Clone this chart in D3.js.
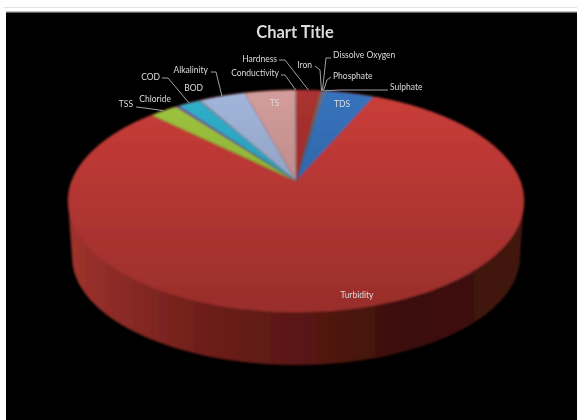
<!DOCTYPE html>
<meta charset="utf-8">
<style>
html, body { margin: 0; background: #fff; }
svg { display: block; }
text { font-family: Lato, sans-serif; fill: #dcdcdc; }
.leader { fill: none; stroke: #a0a0a0; stroke-width: 1px; }
</style>
<body>
<script src="https://d3js.org/d3.v7.min.js"></script>
<script>
// in percent, clockwise from 12 o'clock
var categories = ["Hardness", "Iron", "Dissolve Oxygen", "Phosphate", "Sulphate", "TDS", "Turbidity",
                  "TSS", "Chloride", "COD", "BOD", "Alkalinity", "TS", "Conductivity"];
var values = [2.1, 0.08, 0.08, 0.08, 0.08, 4.2, 80.6, 2.4, 0.3, 1.9, 0.05, 3.9, 4.3, 0.05];

var sliceColors = ["#ab3130", "#8a9a3a", "#7a4fa8", "#2eaecb", "#d8823a", "#3673bd", "#cb3d39",
                   "#9fc63e", "#7b4fa9", "#2fb0cd", "#d8823a", "#a2b6dc", "#d39d9b", "#a8a8a8"];

// label placement: [x, y, anchor, leader elbow x, elbow y, start x, start y] (leader optional)
var labelSpots = {
  "Hardness": [277, 59, "end", 285, 60, 279, 60],
  "Iron": [312, 65, "end", 320, 70, 315, 66],
  "Dissolve Oxygen": [333, 55, "start", 326, 58, 331, 58],
  "Phosphate": [333, 76, "start", 327, 80, 331, 77],
  "Sulphate": [390, 87, "start", 340, 90, 388, 90],
  "TDS": [342, 104, "middle"],
  "Turbidity": [357, 295, "middle"],
  "TSS": [133, 104, "end", 145, 108, 136, 107],
  "Chloride": [171, 99, "end"],
  "COD": [160, 77, "end", 168, 78, 162, 78],
  "BOD": [203, 88, "end"],
  "Alkalinity": [208, 70, "end", 216, 72, 211, 72],
  "TS": [274.5, 103, "middle"],
  "Conductivity": [279, 73, "end", 285, 75, 281, 75]
};

var width = 577, height = 420;

var svg = d3.select("body").append("svg")
    .attr("width", width)
    .attr("height", height);

var defs = svg.append("defs");

// the reference is a soft, blurry screenshot
defs.append("filter").attr("id", "soft")
    .attr("x", "-5%").attr("y", "-5%").attr("width", "110%").attr("height", "110%")
  .append("feGaussianBlur").attr("stdDeviation", 0.8);
defs.append("filter").attr("id", "softText")
    .attr("x", "-20%").attr("y", "-40%").attr("width", "140%").attr("height", "180%")
  .append("feGaussianBlur").attr("stdDeviation", 0.5);

var topShade = defs.append("linearGradient").attr("id", "topShade")
    .attr("gradientUnits", "userSpaceOnUse")
    .attr("x1", 0).attr("x2", 0).attr("y1", 90).attr("y2", 312);
topShade.append("stop").attr("offset", 0).attr("stop-color", "#000").attr("stop-opacity", 0);
topShade.append("stop").attr("offset", 1).attr("stop-color", "#000").attr("stop-opacity", 0.25);

var sideShade = defs.append("linearGradient").attr("id", "sideShade")
    .attr("gradientUnits", "userSpaceOnUse")
    .attr("x1", 68).attr("x2", 524).attr("y1", 0).attr("y2", 0);
[[0, "#a0322d"], [0.12, "#8a2a26"], [0.3, "#6e1e1a"], [0.5, "#5a1813"], [0.75, "#3a0f0b"], [1, "#42140f"]]
  .forEach(function(s) {
    sideShade.append("stop").attr("offset", s[0]).attr("stop-color", s[1]);
  });

// page frame: black plot on white, faint rule above it
svg.append("rect")
    .attr("x", 4).attr("y", 7)
    .attr("width", width - 4).attr("height", 1)
    .attr("fill", "#e2e2e2");
svg.append("rect")
    .attr("x", 6).attr("y", 11.5)
    .attr("width", width - 6).attr("height", 1)
    .attr("fill", "#888");
svg.append("rect")
    .attr("x", 6).attr("y", 12.5)
    .attr("width", width - 6).attr("height", height - 12.5)
    .attr("fill", "#000");

// perspective map of the unit disc, so the apex sits above the ellipse centre
var apex = {x: 296, y: 181};
var persp = -0.18, scaleX = 224.3, scaleY = 107.4;
function project(r, angle) {
  var ux = r * Math.sin(angle), uy = -r * Math.cos(angle),
      w = 1 + persp * uy;
  return [apex.x + scaleX * ux / w, apex.y + scaleY * uy / w];
}

var pie = d3.pie().sort(null)(values);
var line = d3.line();

function slicePoints(d) {
  var n = Math.max(2, Math.ceil((d.endAngle - d.startAngle) / 0.01)),
      pts = [[apex.x, apex.y]];
  d3.range(n + 1).forEach(function(i) {
    pts.push(project(1, d.startAngle + (d.endAngle - d.startAngle) * i / n));
  });
  return pts;
}

var chart = svg.append("g").attr("filter", "url(#soft)");

// side wall: lower half of the top rim, back along the base rim
var rimAngles = d3.range(0, 181, 2).map(function(a) { return a * Math.PI / 180; });
var sidePts = [];
rimAngles.forEach(function(t) {
  sidePts.push([296 + 228 * Math.cos(t), 201 + 111 * Math.sin(t)]);
});
rimAngles.slice().reverse().forEach(function(t) {
  sidePts.push([296 + 224 * Math.cos(t), 257 + 108 * Math.sin(t)]);
});
chart.append("path")
    .attr("d", line(sidePts) + "Z")
    .attr("fill", "url(#sideShade)");

// top face
chart.selectAll(".slice")
    .data(pie)
  .enter().append("path")
    .attr("class", "slice")
    .attr("d", function(d) { return line(slicePoints(d)) + "Z"; })
    .attr("fill", function(d, i) { return sliceColors[i]; });

chart.append("path")
    .attr("d", line(d3.range(0, 361, 2).map(function(a) { return project(1, a * Math.PI / 180); })) + "Z")
    .attr("fill", "url(#topShade)")
    .attr("stroke", "#c5443f")
    .attr("stroke-opacity", 0.45)
    .attr("stroke-width", 0.8);

// leaders run from the label to the middle of its slice on the rim
var labels = svg.append("g").attr("filter", "url(#softText)");

pie.forEach(function(d, i) {
  var spot = labelSpots[categories[i]];
  if (spot.length > 3) {
    var mid = project(1, (d.startAngle + d.endAngle) / 2);
    labels.append("path")
        .attr("class", "leader")
        .attr("d", line([[spot[5], spot[6]], [spot[3], spot[4]], mid]));
  }
  labels.append("text")
      .attr("x", spot[0])
      .attr("y", spot[1])
      .attr("dy", ".35em")
      .attr("text-anchor", spot[2])
      .style("font-size", "8.5px")
      .text(categories[i]);
});

labels.append("text")
    .attr("x", 295)
    .attr("y", 32)
    .attr("dy", ".35em")
    .attr("text-anchor", "middle")
    .style("font-size", "16.5px")
    .style("font-weight", "bold")
    .text("Chart Title");
</script>
</body>
